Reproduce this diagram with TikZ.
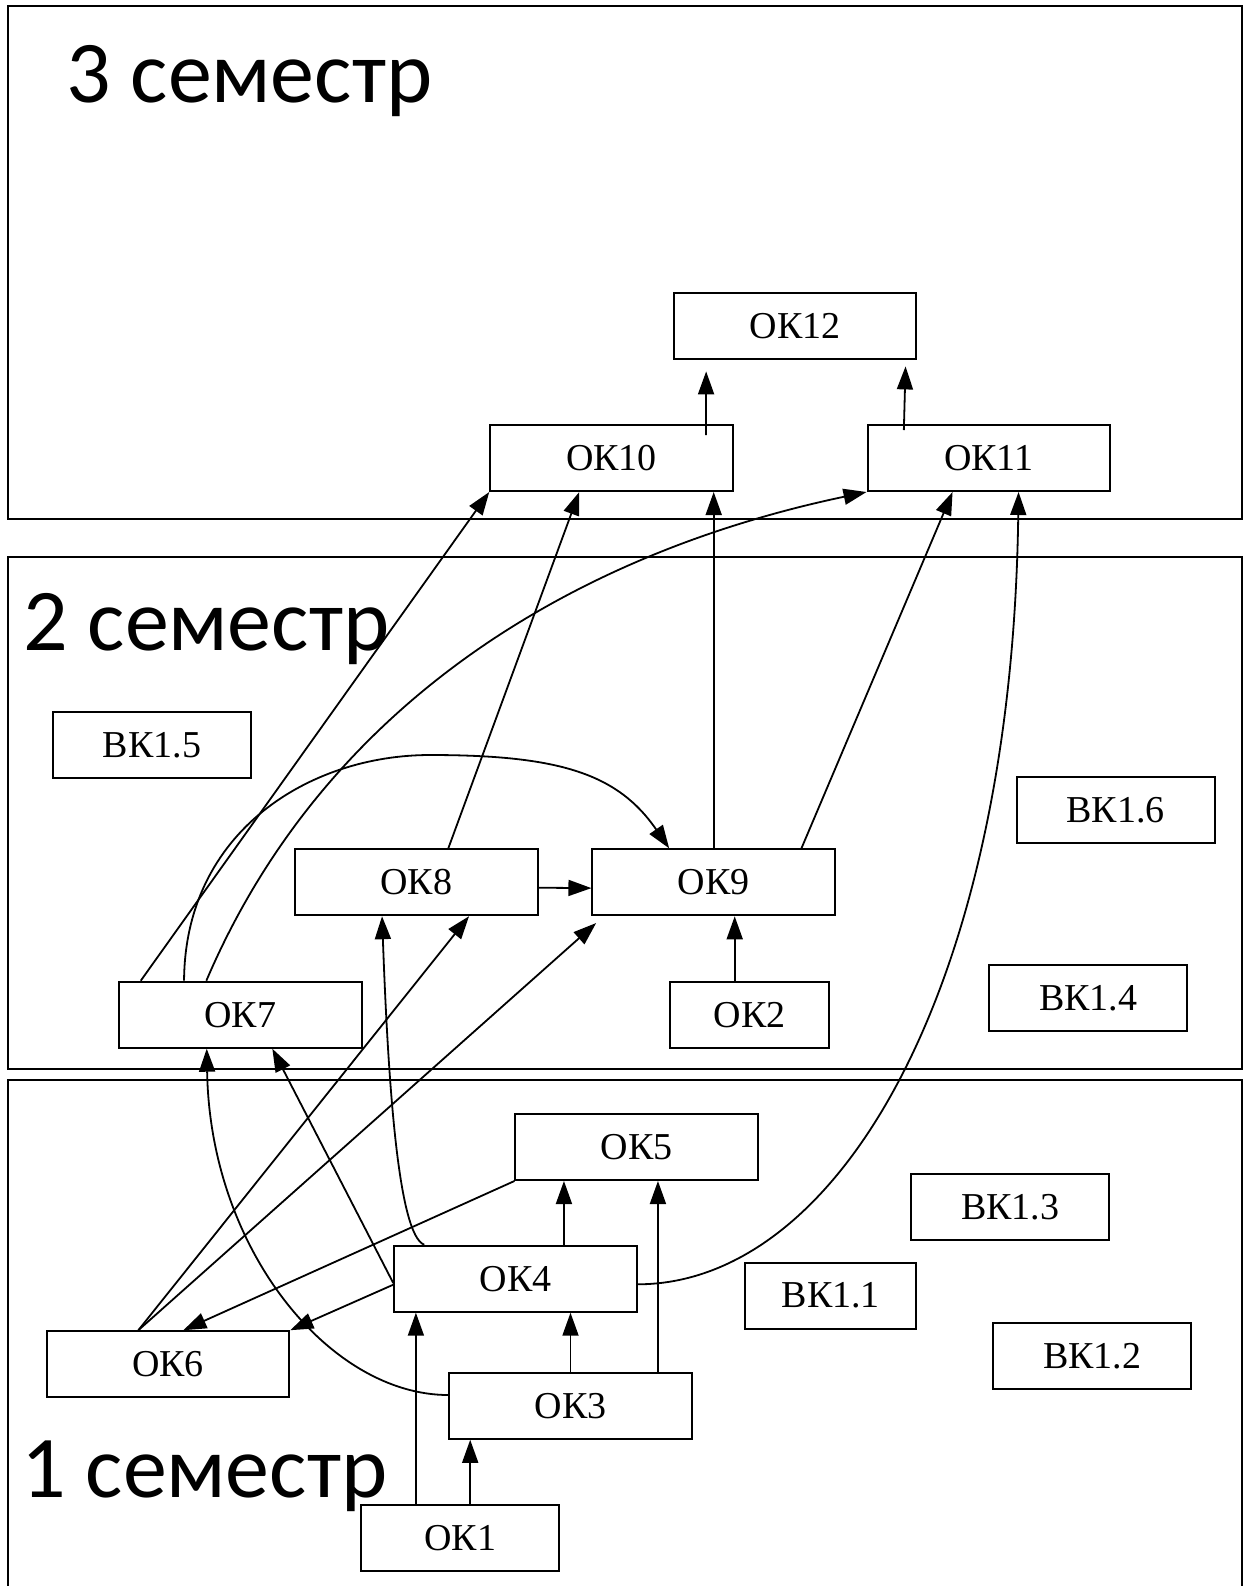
\documentclass[tikz,border=0pt]{standalone}
\usepackage{fontspec}
\setmainfont{Liberation Serif}
\newfontfamily\semfont{Carlito}
\usetikzlibrary{arrows.meta,calc}
\begin{document}
\begin{tikzpicture}[x=0.5pt,y=-0.5pt,
  box/.style={draw,line width=1pt,minimum height=33pt,minimum width=121.25pt,inner sep=0pt,font=\fontsize{19}{22}\selectfont},
  bk/.style={box,minimum width=99pt},
  frame/.style={draw,line width=1pt},
  sem/.style={anchor=base west,inner sep=0pt,font=\semfont\fontsize{44}{50}\selectfont},
  conn/.style={line width=0.9pt,-{Triangle[length=11.5pt,width=8pt]}}]
\useasboundingbox (0,0) rectangle (1250,1586);
% semester frames
\draw[frame] (8.2,6) rectangle (1242,518.5);
\draw[frame] (8.2,556.5) rectangle (1242,1069);
\draw[frame] (8.2,1080) rectangle (1242,1600);
% semester labels
\node[sem] (s3) at (66,102) {3 семестр};
\node[sem] (s2) at (23,650) {2 семестр};
\node[sem] (s1) at (21,1497) {1 семестр};
% boxes
\node[box] (OK12) at (795,326) {ОК12};
\node[box] (OK10) at (611.5,458) {ОК10};
\node[box] (OK11) at (988.8,458) {ОК11};
\node[bk] (BK15) at (152,745) {ВК1.5};
\node[bk] (BK16) at (1115.5,810) {ВК1.6};
\node[box] (OK8) at (416.3,882.2) {ОК8};
\node[box] (OK9) at (713.7,882.3) {ОК9};
\node[box] (OK7) at (240.3,1014.7) {ОК7};
\node[box,minimum width=79.7pt] (OK2) at (749.7,1014.7) {ОК2};
\node[bk] (BK14) at (1088.2,998) {ВК1.4};
\node[box] (OK5) at (636.7,1147) {ОК5};
\node[bk] (BK13) at (1010.3,1207.3) {ВК1.3};
\node[box] (OK4) at (515.5,1278.7) {ОК4};
\node[bk,minimum width=85.5pt] (BK11) at (830.8,1295.7) {ВК1.1};
\node[bk] (BK12) at (1092.2,1356.3) {ВК1.2};
\node[box] (OK6) at (168,1364.2) {ОК6};
\node[box] (OK3) at (570.5,1405.8) {ОК3};
\node[bk] (OK1) at (460.2,1538) {ОК1};
% helper coordinates
\coordinate (a45) at ($(OK4.north west)+(170.7,0)$);
\coordinate (a35) at ($(OK3.north west)+(209.7,0)$);
\coordinate (a14) at ($(OK1.north west)+(55.7,0)$);
\coordinate (a13) at ($(OK1.north west)+(110,0)$);
\coordinate (a29) at ($(OK2.north west)+(65.7,0)$);
\coordinate (v79) at (430,755);
% connectors
\draw[conn] ($(OK10.north west)+(216.7,11)$) -- ($(OK12.south west)+(33.4,11.4)$);
\draw[conn] ($(OK11.north west)+(37.3,6)$) -- ($(OK12.south east)+(-11.7,6.4)$);
\draw[conn] (OK9.north) -- (OK9.north |- OK10.south);
\draw[conn] ($(OK8.north west)+(154.3,0)$) -- ($(OK10.south west)+(90,0)$);
\draw[conn] ($(OK7.north west)+(22.7,0)$) -- (OK10.south west);
\draw[conn] ($(OK7.north west)+(88.3,0)$) .. controls (324,705) and (572,554) .. (OK11.south west);
\draw[conn] ($(OK7.north west)+(66,0)$) .. controls (185,831) and (310,755) .. (v79) .. controls (560,755) and (618,774) .. ($(OK9.north west)+(77.7,0)$);
\draw[conn] ($(OK8.east)+(0,5.5)$) -- ($(OK9.west)+(0,5.8)$);
\draw[conn] ($(OK9.north west)+(210,0)$) -- ($(OK11.south west)+(86,0)$);
\draw[conn] ($(OK4.east)+(0,5.6)$) .. controls (837,1284) and (1012,991) .. ($(OK11.south west)+(152,0)$);
\draw[conn] ($(OK4.north west)+(31,0)$) .. controls (398,1235) and (388,1080) .. ($(OK8.south west)+(88,0)$);
\draw[conn] ($(OK4.west)+(0,4.3)$) -- ($(OK7.south west)+(154.3,0)$);
\draw[conn] ($(OK4.west)+(0,6)$) -- (OK6.north east);
\draw[conn] (OK5.south west) -- ($(OK6.north west)+(137.6,0)$);
\draw[conn] ($(OK6.north west)+(92.6,0)$) -- ($(OK8.south west)+(175,0)$);
\draw[conn] ($(OK6.north west)+(92.6,0)$) -- ($(OK9.south west)+(4.7,6.7)$);
\draw[conn] ($(OK3.west)+(0,-10.8)$) .. controls (330,1395) and (210,1250) .. ($(OK7.south west)+(88.7,0)$);
\draw[conn] (a45) -- (a45 |- OK5.south);
\draw[conn] (a35) -- (a35 |- OK5.south);
\draw[conn] (OK3.north) -- (OK3.north |- OK4.south);
\draw[conn] (a14) -- (a14 |- OK4.south);
\draw[conn] (a13) -- (a13 |- OK3.south);
\draw[conn] (a29) -- (a29 |- OK9.south);
\end{tikzpicture}
\end{document}
